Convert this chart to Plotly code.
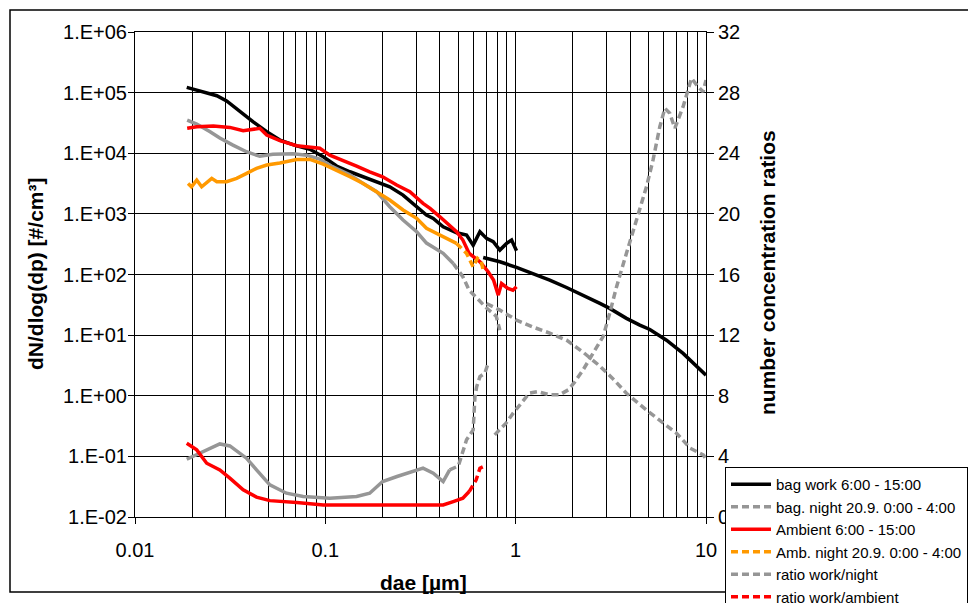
import plotly.graph_objects as go

# ---------------- data ----------------
bag_work_smps_x = [0.0187, 0.0238, 0.0269, 0.0303, 0.0356, 0.0418, 0.0492, 0.0577, 0.0707, 0.083,
                   0.0975, 0.1146, 0.1346, 0.158, 0.186, 0.218, 0.256, 0.302, 0.340, 0.369,
                   0.416, 0.490, 0.552, 0.598, 0.649, 0.703, 0.762, 0.826, 0.896, 0.952, 1.01]
bag_work_smps_y = [1.22e5, 9.7e4, 8.9e4, 7.3e4, 4.8e4, 3.3e4, 2.26e4, 1.65e4, 1.32e4, 1.16e4,
                   8.75e3, 6.15e3, 4.95e3, 4.1e3, 3.39e3, 2.8e3, 2.04e3, 1.31e3, 955, 843,
                   612, 488, 447, 305, 507, 394, 347, 253, 326, 370, 246]
bag_work_aps_x = [0.675, 0.826, 1.01, 1.24, 1.51, 1.85, 2.26, 2.77, 3.12, 3.82, 4.49, 5.07, 6.2, 7.58, 10.0]
bag_work_aps_y = [191, 162, 131, 104, 81, 61, 45.7, 33.3, 27.6, 18.9, 14.6, 12.4, 8.26, 4.99, 2.19]

bag_night_smps_x = [0.0188, 0.0211, 0.0248, 0.0279, 0.0327, 0.0385, 0.0453, 0.053, 0.0676, 0.0797,
                    0.0935, 0.109, 0.119, 0.1346, 0.158, 0.186, 0.218, 0.256, 0.302, 0.340,
                    0.416, 0.47, 0.528, 0.57, 0.62, 0.703, 0.79, 0.826]
bag_night_smps_y = [3.53e4, 3.03e4, 2.26e4, 1.78e4, 1.36e4, 1.06e4, 8.9e3, 9.6e3, 9.8e3, 9.3e3,
                    8.0e3, 6.0e3, 5.3e3, 4.4e3, 3.18e3, 2.32e3, 1.31e3, 791, 507, 330,
                    223, 152, 92, 55, 42, 28, 20.6, 12.1]
bag_night_aps_x = [0.703, 0.826, 1.01, 1.24, 1.51, 1.85, 2.26, 2.77, 3.22, 3.82, 4.87, 5.94, 7.0, 8.26, 9.7, 10.0]
bag_night_aps_y = [33.3, 25.9, 17.7, 13.5, 10.8, 8.26, 5.24, 3.08, 1.95, 1.1, 0.578, 0.353, 0.241, 0.136, 0.105, 0.09]

ambient_x = [0.0188, 0.0211, 0.0258, 0.0315, 0.037, 0.0453, 0.0492, 0.0577, 0.0707, 0.083,
             0.0935, 0.1055, 0.124, 0.146, 0.171, 0.2, 0.237, 0.278, 0.326, 0.355,
             0.40, 0.45, 0.489, 0.528, 0.57, 0.649, 0.717, 0.765, 0.81, 0.843, 0.91, 0.967, 1.01]
ambient_y = [2.58e4, 2.74e4, 2.81e4, 2.67e4, 2.35e4, 2.58e4, 2.0e4, 1.61e4, 1.33e4, 1.25e4,
             1.21e4, 9.33e3, 7.7e3, 6.15e3, 4.95e3, 4.09e3, 2.99e3, 2.32e3, 1.49e3, 1.23e3,
             895, 653, 507, 370, 223, 162, 111, 81, 45.7, 71, 59, 55, 62.7]

amb_night_x = [0.019, 0.0198, 0.0211, 0.0224, 0.0253, 0.0269, 0.0303, 0.0342, 0.0386, 0.0435,
               0.0492, 0.0577, 0.0707, 0.083, 0.0975, 0.1146, 0.1346, 0.158, 0.186, 0.218,
               0.256, 0.302, 0.340, 0.416, 0.489, 0.552, 0.598, 0.63, 0.66, 0.675]
amb_night_y = [3.18e3, 2.8e3, 3.61e3, 2.8e3, 3.85e3, 3.39e3, 3.39e3, 3.85e3, 4.66e3, 5.63e3,
               6.38e3, 6.9e3, 7.9e3, 7.9e3, 6.6e3, 5.28e3, 4.1e3, 3.18e3, 2.32e3, 1.69e3,
               1.16e3, 843, 577, 419, 326, 223, 134, 185, 162, 118]

ratio_wn_smps_x = [0.0187, 0.0211, 0.0279, 0.0315, 0.0385, 0.0435, 0.0511, 0.0625, 0.0765, 0.1055,
                   0.146, 0.171, 0.2, 0.238, 0.278, 0.326, 0.369, 0.416, 0.45, 0.5,
                   0.552, 0.598, 0.611, 0.624, 0.649, 0.689, 0.717]
ratio_wn_smps_y = [3.81, 4.1, 4.82, 4.69, 3.88, 3.11, 2.12, 1.57, 1.35, 1.24,
                   1.35, 1.57, 2.34, 2.67, 2.93, 3.22, 2.89, 2.34, 3.11, 3.37,
                   5.09, 5.75, 7.94, 8.6, 9.26, 9.49, 10.15]
ratio_wn_aps_x = [0.776, 0.89, 0.97, 1.07, 1.18, 1.3, 1.51, 1.70, 1.89, 2.05, 2.26, 2.55, 2.88, 3.12,
                  3.39, 3.82, 4.31, 4.87, 5.27, 5.72, 6.08, 6.45, 6.86, 7.58, 8.39, 9.08, 9.66, 10.0]
ratio_wn_aps_y = [5.42, 6.19, 6.85, 7.51, 8.17, 8.27, 8.06, 8.06, 8.39, 8.93, 9.7, 10.81, 11.9, 13.44,
                  15.2, 17.4, 19.6, 21.8, 23.56, 25.75, 26.97, 26.64, 25.65, 27.07, 28.95, 28.39, 28.06, 28.83]

ratio_wa_x = [0.0187, 0.0211, 0.0238, 0.0279, 0.0315, 0.037, 0.0435, 0.0511, 0.0707, 0.0975,
              0.158, 0.237, 0.355, 0.416, 0.47, 0.528, 0.57, 0.62, 0.649, 0.689]
ratio_wa_y = [4.87, 4.43, 3.55, 3.11, 2.56, 1.79, 1.31, 1.08, 0.95, 0.80,
              0.80, 0.80, 0.80, 0.80, 1.02, 1.24, 1.68, 2.45, 3.22, 3.37]

y_tick_vals = [1e-2, 1e-1, 1e0, 1e1, 1e2, 1e3, 1e4, 1e5, 1e6]
y_tick_text = ["1.E-02", "1.E-01", "1.E+00", "1.E+01", "1.E+02", "1.E+03", "1.E+04", "1.E+05", "1.E+06"]
x_tick_vals = [0.01, 0.1, 1, 10]
x_tick_text = ["0.01", "0.1", "1", "10"]
y2_tick_vals = [0, 4, 8, 12, 16, 20, 24, 28, 32]

names = ["bag work 6:00 - 15:00", "bag. night 20.9. 0:00 - 4:00", "Ambient 6:00 - 15:00",
         "Amb. night 20.9. 0:00 - 4:00", "ratio work/night", "ratio work/ambient"]

# ---------------- styling ----------------
FONT = "Liberation Sans, Arial, sans-serif"
BLACK = "#000000"
GRAY = "#969696"
RED = "#FF0000"
ORANGE = "#FF9900"
DASH = "7px,4px"
W = 3.5
OFF = 8  # the page body has an 8px margin

fig = go.Figure()


def add(x, y, color, dash, name, show, rank, axis="y"):
    fig.add_trace(go.Scatter(
        x=x, y=y, mode="lines", name=name, showlegend=show, legendgroup=name,
        legendrank=rank, yaxis=axis,
        line=dict(color=color, width=W, dash=dash)))


def split(x, y, cut):
    i = next(k for k, v in enumerate(x) if v >= cut)
    return (x[:i + 1], y[:i + 1]), (x[i:], y[i:])


# bag work (solid)
add(bag_work_smps_x, bag_work_smps_y, BLACK, "solid", names[0], True, 1)
add(bag_work_aps_x, bag_work_aps_y, BLACK, "solid", names[0], False, 1)

# bag night
(a, b) = split(bag_night_smps_x, bag_night_smps_y, 0.47)
add(a[0], a[1], GRAY, "solid", names[1], False, 2)
add(b[0], b[1], GRAY, DASH, names[1], False, 2)
add(bag_night_aps_x, bag_night_aps_y, GRAY, DASH, names[1], True, 2)

# ambient (solid)
add(ambient_x, ambient_y, RED, "solid", names[2], True, 3)

# ambient night
(a, b) = split(amb_night_x, amb_night_y, 0.489)
add(a[0], a[1], ORANGE, "solid", names[3], False, 4)
add(b[0], b[1], ORANGE, DASH, names[3], True, 4)

# ratio work/night (right axis)
(a, b) = split(ratio_wn_smps_x, ratio_wn_smps_y, 0.45)
add(a[0], a[1], GRAY, "solid", names[4], False, 5, "y2")
add(b[0], b[1], GRAY, DASH, names[4], False, 5, "y2")
add(ratio_wn_aps_x, ratio_wn_aps_y, GRAY, DASH, names[4], True, 5, "y2")

# ratio work/ambient (right axis)
(a, b) = split(ratio_wa_x, ratio_wa_y, 0.57)
add(a[0], a[1], RED, "solid", names[5], False, 6, "y2")
add(b[0], b[1], RED, DASH, names[5], True, 6, "y2")

tickfont = dict(family=FONT, size=20, color=BLACK)
titlefont = dict(family=FONT, size=21, color=BLACK)

# plot area in page pixels: x 135..706, y 32..517
PL, PR, PT, PB = 135, 706, 32, 517
PW, PH = PR - PL, PB - PT


def px(x):
    return (x - PL) / PW


def py(y):
    return (PB - y) / PH


fig.update_layout(
    width=976 - OFF, height=603 - OFF,
    margin=dict(l=PL - OFF, r=976 - PR, t=PT - OFF, b=603 - PB, autoexpand=False),
    paper_bgcolor="white", plot_bgcolor="white",
    font=dict(family=FONT, color=BLACK),
    xaxis=dict(
        type="log", range=[-2, 1], tickmode="linear", tick0=0, dtick=1,
        ticks="outside", ticklen=6, tickcolor=BLACK, tickfont=tickfont,
        ticklabelstandoff=9,
        showgrid=True, gridcolor=BLACK, gridwidth=1,
        minor=dict(dtick="D1", showgrid=True, gridcolor=BLACK, gridwidth=1, ticks=""),
        showline=True, linecolor=BLACK, linewidth=1, mirror=True, zeroline=False,
    ),
    yaxis=dict(
        type="log", range=[-2, 6], tickmode="array", tickvals=y_tick_vals, ticktext=y_tick_text,
        ticks="outside", ticklen=6, tickcolor=BLACK, tickfont=tickfont,
        ticklabelstandoff=-3,
        showgrid=True, gridcolor=BLACK, gridwidth=1,
        showline=True, linecolor=BLACK, linewidth=1, mirror=True, zeroline=False,
    ),
    yaxis2=dict(
        overlaying="y", side="right", range=[0, 32], tickmode="array", tickvals=y2_tick_vals,
        ticks="outside", ticklen=7, tickcolor=BLACK, tickfont=tickfont,
        showgrid=False, showline=True, linecolor=BLACK, linewidth=1, zeroline=False,
    ),
    legend=dict(
        x=px(725), y=py(467), xanchor="left", yanchor="top",
        bgcolor="white", bordercolor=BLACK, borderwidth=1,
        font=dict(family=FONT, size=15, color=BLACK),
        tracegroupgap=0, itemwidth=40,
    ),
    showlegend=True,
    annotations=[
        dict(text="<b>dN/dlog(dp) [#/cm³]</b>", xref="paper", yref="paper",
             x=px(35), y=py(274), textangle=-90, showarrow=False,
             xanchor="center", yanchor="middle", font=titlefont),
        dict(text="<b>number concentration ratios</b>", xref="paper", yref="paper",
             x=px(767), y=py(273), textangle=-90, showarrow=False,
             xanchor="center", yanchor="middle", font=titlefont),
        dict(text="<b>dae [µm]</b>", xref="paper", yref="paper",
             x=px(423), y=py(582), showarrow=False,
             xanchor="center", yanchor="middle", font=titlefont),
    ],
    shapes=[
        dict(type="rect", xref="paper", yref="paper", layer="below",
             x0=px(10), x1=px(990), y0=py(592), y1=py(10),
             line=dict(color=BLACK, width=1.5)),
    ],
)

fig.write_html("out.html")
